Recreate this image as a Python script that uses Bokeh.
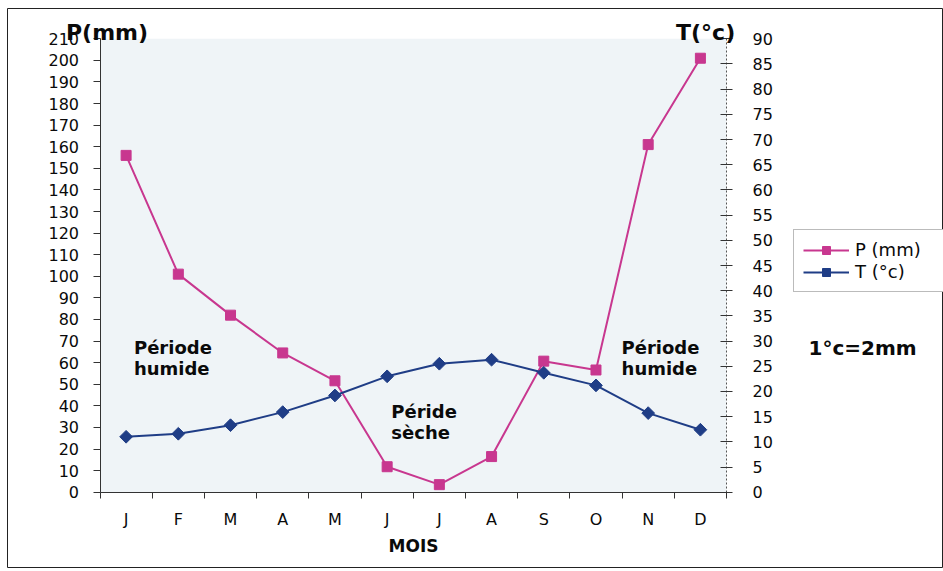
import math
from bokeh.plotting import figure
from bokeh.models import (Range1d, LinearAxis, FixedTicker, Label, Legend, LegendItem,
                          BoxAnnotation)
from bokeh.embed import file_html
from bokeh.resources import INLINE

months = ["J", "F", "M", "A", "M", "J", "J", "A", "S", "O", "N", "D"]
precip = [156, 101, 82, 64.5, 51.6, 11.8, 3.5, 16.5, 60.7, 56.6, 161, 201]
temp = [11.0, 11.6, 13.3, 15.9, 19.2, 23.0, 25.5, 26.3, 23.7, 21.2, 15.7, 12.4]
p_ticks = [0, 10, 20, 30, 40, 50, 60, 70, 80, 90, 100, 110, 120, 130, 140, 150,
           160, 170, 180, 190, 200, 210]
t_ticks = [0, 5, 10, 15, 20, 25, 30, 35, 40, 45, 50, 55, 60, 65, 70, 75, 80, 85, 90]
P_MAX, T_MAX = 210, 90

xs = [i + 1 for i in range(len(months))]
bounds = [i + 0.5 for i in range(len(months) + 1)]

FONT = "DejaVu Sans"
PCOL = "#c8378f"
TCOL = "#1f3d86"
TXT = "#0a0a0a"

# layout geometry (pixels)
W, H = 936, 560              # canvas size
AX_L, AX_R = 92.5, 719.0     # plot area left/right in canvas px
AX_T, AX_B = 30.3, 483.7     # plot area top/bottom in canvas px
n = len(months)
ux = (AX_R - AX_L) / n
x0 = 0.5 - AX_L / ux
x1 = x0 + W / ux
uy = (AX_B - AX_T) / P_MAX
y0 = -(H - AX_B) / uy
y1 = y0 + H / uy
k = T_MAX / P_MAX

p = figure(width=W, height=H, output_backend="svg", toolbar_location=None,
           x_range=Range1d(x0, x1), y_range=Range1d(y0, y1),
           x_axis_location=None, y_axis_location=None,
           min_border_left=0, min_border_right=0, min_border_top=0, min_border_bottom=0)
p.styles = {"margin-left": "7px", "margin-top": "8px"}
p.background_fill_color = "white"
p.border_fill_color = "white"
p.outline_line_color = "#222"
p.outline_line_width = 1
p.xgrid.grid_line_color = None
p.ygrid.grid_line_color = None
p.extra_y_ranges = {"T": Range1d(y0 * k, y1 * k)}

p.add_layout(BoxAnnotation(left=0.5, right=n + 0.5, bottom=0, top=P_MAX,
                           fill_color="#eff4f7", fill_alpha=1.0, line_color=None,
                           level="underlay"))

# x axis
xa = LinearAxis(fixed_location=0, ticker=FixedTicker(ticks=xs, minor_ticks=bounds))
xa.bounds = (0.5, n + 0.5)
xa.major_label_overrides = {x: m for x, m in zip(xs, months)}
xa.major_tick_in = 0
xa.major_tick_out = 0
xa.minor_tick_in = 0
xa.minor_tick_out = 6
xa.minor_tick_line_color = "#333"
xa.axis_line_color = "#333"
xa.major_label_standoff = 12
xa.major_label_text_font = FONT
xa.major_label_text_font_size = "16px"
xa.major_label_text_color = TXT
xa.axis_label = "MOIS"
xa.axis_label_text_font = FONT
xa.axis_label_text_font_style = "bold"
xa.axis_label_text_font_size = "17px"
xa.axis_label_standoff = 3
xa.axis_label_text_color = TXT
p.add_layout(xa, "below")

# left axis
ya = LinearAxis(fixed_location=0.5, ticker=FixedTicker(ticks=p_ticks))
ya.major_tick_in = 0
ya.major_tick_out = 7
ya.minor_tick_line_color = None
ya.axis_line_color = "#333"
ya.major_tick_line_color = "#333"
ya.major_label_standoff = 14
ya.major_label_text_font = FONT
ya.major_label_text_font_size = "16px"
ya.major_label_text_color = TXT
ya.bounds = (0, P_MAX)
p.add_layout(ya, "left")

# right axis
ra = LinearAxis(y_range_name="T", fixed_location=n + 0.5, ticker=FixedTicker(ticks=t_ticks))
ra.major_tick_in = 6
ra.major_tick_out = 6
ra.minor_tick_line_color = None
ra.axis_line_color = "#555"
ra.axis_line_dash = "2 2"
ra.major_tick_line_color = "#333"
ra.major_label_standoff = 20
ra.major_label_text_font = FONT
ra.major_label_text_font_size = "16px"
ra.major_label_text_color = TXT
ra.bounds = (0, T_MAX)
p.add_layout(ra, "right")

pl = p.line(xs, precip, line_color=PCOL, line_width=2)
ps = p.scatter(xs, precip, marker="square", size=10, fill_color=PCOL, line_color=PCOL)
tl = p.line(xs, temp, line_color=TCOL, line_width=2, y_range_name="T")
ts = p.scatter(xs, temp, marker="square", size=9, angle=math.pi / 4,
               fill_color=TCOL, line_color=TCOL, y_range_name="T")

legend = Legend(items=[LegendItem(label="P (mm)", renderers=[pl, ps]),
                       LegendItem(label="T (°c)", renderers=[tl, ts])],
                location=(786, 276), glyph_width=46, glyph_height=20,
                label_standoff=6, padding=9, spacing=1, margin=0, label_width=110,
                border_line_color="#777", background_fill_color="white",
                background_fill_alpha=1.0,
                label_text_font=FONT, label_text_font_size="18px",
                label_text_color=TXT)
p.add_layout(legend)

def lab(x, y, t, size="18px", bold=True, align="left"):
    p.add_layout(Label(x=x, y=y, text=t, text_font=FONT, text_font_size=size,
                       text_font_style="bold" if bold else "normal",
                       text_align=align, text_baseline="alphabetic",
                       text_color=TXT))

lab(0.634, 213, "P(mm)", size="22px", align="center")
lab(12.1, 213, "T(°c)", size="22px", align="center")
lab(1.15, 67.2, "Période")
lab(1.15, 57.4, "humide")
lab(6.08, 37.4, "Péride")
lab(6.08, 27.7, "sèche")
lab(10.49, 67.2, "Période")
lab(10.49, 57.4, "humide")
lab(14.07, 66.6, "1°c=2mm", size="20px")

open("out.html", "w").write(file_html(p, INLINE))
